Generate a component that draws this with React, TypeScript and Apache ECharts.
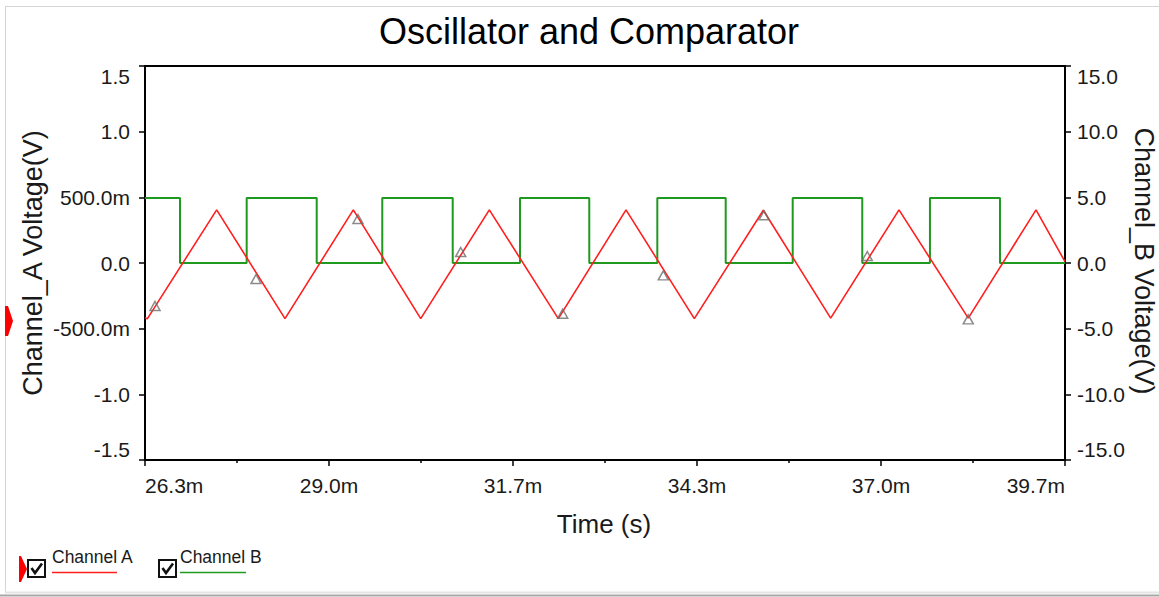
import React, { useEffect, useRef } from "react";
import * as echarts from "echarts";

// ---- data (time in ms) ----
const xStartMs = 26.3;
const xSpanMs = 13.4;
const xTickStepMs = 2.68;

const chATimeMs = [26.3, 26.333, 27.344, 28.339, 29.334, 30.316, 31.315, 32.32, 33.306, 34.301, 35.306, 36.287, 37.282, 38.291, 39.278, 39.7];
const chAVolt = [-0.417, -0.425, 0.405, -0.424, 0.405, -0.424, 0.405, -0.424, 0.405, -0.424, 0.402, -0.42, 0.405, -0.42, 0.405, 0.01];

const chBTimeMs = [26.3, 26.81, 27.781, 28.801, 29.756, 30.782, 31.762, 32.771, 33.762, 34.758, 35.734, 36.747, 37.733, 38.753, 39.7];
const chBVolt = [4.95, 0, 4.95, 0, 4.95, 0, 4.95, 0, 4.95, 0, 4.95, 0, 4.95, 0, 0];

const markerTimeMs = [26.446, 27.917, 29.402, 30.898, 32.384, 33.849, 35.316, 36.82, 38.291];
const markerVolt = [-0.327, -0.122, 0.335, 0.084, -0.386, -0.094, 0.363, 0.053, -0.429];

const titleText = "Oscillator and Comparator";
const xName = "Time (s)";
const yLeftName = "Channel_A Voltage(V)";
const yRightName = "Channel_B Voltage(V)";
const legendNames = ["Channel A", "Channel B"];

const RED = "#ff1f1f";
const GREEN = "#1f9a1f";
const FONT = "'Liberation Sans', Arial, sans-serif";
const TXT = "#1a1a1a";

function fmtLeft(v: number) {
  if (Math.abs(v) < 1e-9) return "0.0";
  if (Math.abs(v) < 1) return (v * 1000).toFixed(1) + "m";
  return v.toFixed(1);
}

export default function App() {
  const ref = useRef<HTMLDivElement>(null);
  useEffect(() => {
    const chart = echarts.init(ref.current!, null, { renderer: "svg" });
    const checkbox = (x: number, y: number) => [
      { type: "rect", shape: { x, y, width: 17, height: 17 }, style: { fill: "#fff", stroke: "#111", lineWidth: 2 } },
      { type: "polyline", shape: { points: [[x + 3.5, y + 8], [x + 7, y + 13], [x + 14, y + 3.5]] }, style: { stroke: "#111", lineWidth: 2.6, fill: null } },
    ];
    const option: any = {
      animation: false,
      backgroundColor: "#fff",
      grid: { left: 145, top: 66, width: 920, height: 394, show: true, borderColor: "#000", borderWidth: 2, backgroundColor: "#fff" },
      xAxis: {
        type: "value",
        min: 0,
        max: xSpanMs,
        interval: xTickStepMs,
        axisLine: { show: true, onZero: false, lineStyle: { color: "#000", width: 2 } },
        axisTick: { show: true, inside: false, length: 6, lineStyle: { color: "#000", width: 1.5 } },
        minorTick: { show: true, splitNumber: 2, length: 3, lineStyle: { color: "#000", width: 1.5 } },
        splitLine: { show: false },
        axisLabel: {
          formatter: (v: number) => (v + xStartMs).toFixed(1) + "m",
          fontSize: 21, fontFamily: FONT, color: TXT, margin: 15,
          alignMinLabel: "left", alignMaxLabel: "right",
        },
      },
      yAxis: [
        {
          type: "value", min: -1.5, max: 1.5, interval: 0.5, position: "left",
          axisLine: { show: true, onZero: false, lineStyle: { color: "#000", width: 2 } },
          axisTick: { show: true, inside: false, length: 6, lineStyle: { color: "#000", width: 1.5 } },
          splitLine: { show: false },
          axisLabel: {
            formatter: fmtLeft, fontSize: 21, fontFamily: FONT, color: TXT, margin: 15,
            verticalAlignMinLabel: "bottom", verticalAlignMaxLabel: "top",
          },
        },
        {
          type: "value", min: -15, max: 15, interval: 5, position: "right",
          axisLine: { show: true, onZero: false, lineStyle: { color: "#000", width: 2 } },
          axisTick: { show: true, inside: false, length: 6, lineStyle: { color: "#000", width: 1.5 } },
          splitLine: { show: false },
          axisLabel: {
            formatter: (v: number) => v.toFixed(1), fontSize: 21, fontFamily: FONT, color: TXT, margin: 12,
            verticalAlignMinLabel: "bottom", verticalAlignMaxLabel: "top",
          },
        },
      ],
      series: [
        {
          name: legendNames[1], type: "line", yAxisIndex: 1, step: "end", showSymbol: false, z: 2,
          lineStyle: { color: GREEN, width: 2 },
          data: chBTimeMs.map((t, i) => [t - xStartMs, chBVolt[i]]),
        },
        {
          name: legendNames[0], type: "line", yAxisIndex: 0, showSymbol: false, z: 3,
          lineStyle: { color: RED, width: 1.6 },
          data: chATimeMs.map((t, i) => [t - xStartMs, chAVolt[i]]),
        },
        {
          name: "markers", type: "scatter", yAxisIndex: 0, symbol: "triangle", symbolSize: [10, 9], z: 4,
          itemStyle: { color: "rgba(255,255,255,0)", borderColor: "#6e6e6e", borderWidth: 1.5 },
          data: markerTimeMs.map((t, i) => [t - xStartMs, markerVolt[i]]),
        },
      ],
      graphic: [
        // window frame
        { type: "line", shape: { x1: 5.5, y1: 6.5, x2: 5.5, y2: 592 }, style: { stroke: "#d4d4d4", lineWidth: 1 } },
        { type: "line", shape: { x1: 5, y1: 6.5, x2: 1159, y2: 6.5 }, style: { stroke: "#d4d4d4", lineWidth: 1 } },
        { type: "line", shape: { x1: 5, y1: 592.5, x2: 1159, y2: 592.5 }, style: { stroke: "#e4e4e4", lineWidth: 2 } },
        { type: "line", shape: { x1: 0, y1: 595.5, x2: 1159, y2: 595.5 }, style: { stroke: "#a8a8a8", lineWidth: 2 } },
        // title and axis names
        { type: "text", x: 589, y: 31, style: { text: titleText, fontSize: 36, fontFamily: FONT, fill: "#000", textAlign: "center", textVerticalAlign: "middle" } },
        { type: "text", x: 604, y: 524, style: { text: xName, fontSize: 26, fontFamily: FONT, fill: TXT, textAlign: "center", textVerticalAlign: "middle" } },
        { type: "text", x: 33, y: 263, rotation: Math.PI / 2, style: { text: yLeftName, fontSize: 27, fontFamily: FONT, fill: TXT, textAlign: "center", textVerticalAlign: "middle" } },
        { type: "text", x: 1144, y: 261, rotation: -Math.PI / 2, style: { text: yRightName, fontSize: 27, fontFamily: FONT, fill: TXT, textAlign: "center", textVerticalAlign: "middle" } },
        // red channel indicators
        { type: "polygon", shape: { points: [[5, 306], [8, 306], [13, 321], [8, 336], [5, 336]] }, style: { fill: "#ff0000" } },
        { type: "polygon", shape: { points: [[19, 556], [21, 556], [27, 569], [21, 582], [19, 582]] }, style: { fill: "#ff0000" } },
        // legend
        ...checkbox(28, 560),
        { type: "text", x: 52, y: 557, style: { text: legendNames[0], fontSize: 17.5, fontFamily: FONT, fill: TXT, textAlign: "left", textVerticalAlign: "middle" } },
        { type: "line", shape: { x1: 52, y1: 572.5, x2: 117, y2: 572.5 }, style: { stroke: RED, lineWidth: 1.5 } },
        ...checkbox(159, 560),
        { type: "text", x: 180, y: 557, style: { text: legendNames[1], fontSize: 17.5, fontFamily: FONT, fill: TXT, textAlign: "left", textVerticalAlign: "middle" } },
        { type: "line", shape: { x1: 180, y1: 572.5, x2: 246, y2: 572.5 }, style: { stroke: GREEN, lineWidth: 1.5 } },
      ],
    };
    chart.setOption(option);
    return () => chart.dispose();
  }, []);
  return <div ref={ref} style={{ position: "absolute", left: 0, top: 0, width: 1159, height: 597, background: "#fff" }} />;
}
